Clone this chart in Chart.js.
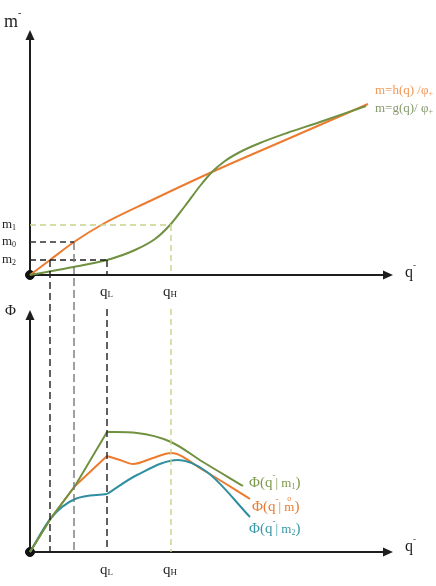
<!DOCTYPE html>
<html>
<head>
<meta charset="utf-8">
<script src="https://cdn.jsdelivr.net/npm/chart.js@4.4.1/dist/chart.umd.min.js"></script>
<style>
html, body { margin: 0; padding: 0; background: #fff; }
#diagrama { display: block; }
</style>
</head>
<body>
<canvas id="diagrama" width="436" height="586"></canvas>
<script>
// cortes en q y niveles de m
const qA = 2.0, qB = 4.4, qL = 7.7, qH = 14.1;
const m2 = 1.5, m0 = 3.3, m1 = 5.0;

// panel superior: m = h(q)/phi (naranja) y m = g(q)/phi (verde)
const hQ = [0, 2.0, 4.4, 7.3, 12.0, 18.2, 26.0, 33.8];
const hM = [0, 1.5, 3.3, 5.1, 7.4, 10.3, 13.7, 17.1];
const gQ = [0, 3.8, 7.7, 10.5, 12.5, 14.0, 15.5, 17.0, 18.2, 19.5, 21.0, 23.0, 25.7, 29.0, 33.6];
const gM = [0, 0.7, 1.5, 2.5, 3.6, 5.0, 6.9, 8.9, 10.3, 11.4, 12.3, 13.2, 14.2, 15.3, 16.9];

// panel inferior: Phi(q | m1), Phi(q | m0), Phi(q | m2)
const phi1Q = [0, 2.1, 4.5, 7.7, 10.7, 14.1, 17.3, 21.3];
const phi1 = [0, 3.4, 6.6, 12.0, 11.9, 11.0, 9.0, 6.6];
const phi0Q = [0, 2.1, 4.5, 7.7, 9.0, 10.3, 12.3, 14.1, 17.3, 22.0];
const phi0 = [0, 3.4, 6.6, 9.6, 9.2, 8.8, 9.4, 9.9, 8.2, 5.3];
const phi2Q = [0, 2.1, 4.5, 7.7, 10.7, 14.8, 17.7, 22.0];
const phi2 = [0, 3.4, 5.3, 5.8, 7.7, 9.2, 8.0, 3.5];

// largo de los ejes
const EJE_Q = 36.3, EJE_M = 24.5, EJE_PHI = 24.2, CORTE_PHI = 24.3;

// los dos paneles comparten una escala: el de arriba va desplazado
const BASE_SUP = 27.7;
const X_MIN = -3.0, X_MAX = 40.6, Y_MIN = -3.4, Y_MAX = 55.2;

const NARANJA = '#EC7B30', VERDE = '#6F9140', AZUL = '#2F8FA0', VERDE_CLARO = '#C6D488', TINTA = '#1e1e1e';
const FUENTE = '"Liberation Serif", "DejaVu Serif", serif';

const arriba = (qs, ms) => qs.map((q, i) => ({ x: q, y: BASE_SUP + ms[i] }));
const abajo = (qs, vs) => qs.map((q, i) => ({ x: q, y: vs[i] }));
// parte recta hasta qL y parte curva desde qL
const subida = (qs, vs) => abajo(qs, vs).filter(p => p.x <= qL);
const bajada = (qs, vs) => abajo(qs, vs).filter(p => p.x >= qL);

const guia = (data, color, dash) => ({
  data, borderColor: color, borderWidth: 1.4, borderDash: dash, pointRadius: 0, tension: 0, spanGaps: false
});
const curva = (data, color, suave) => ({
  data, borderColor: color, borderWidth: 2, pointRadius: 0,
  tension: suave ? 0.4 : 0, cubicInterpolationMode: suave ? 'monotone' : 'default'
});

const datasets = [
  // lineas punteadas
  guia([{ x: 0, y: BASE_SUP + m1 }, { x: qH, y: BASE_SUP + m1 }], VERDE_CLARO, [6, 4]),
  guia([{ x: qH, y: BASE_SUP + m1 }, { x: qH, y: BASE_SUP }, { x: qH, y: null }, { x: qH, y: CORTE_PHI }, { x: qH, y: 0 }], VERDE_CLARO, [6, 4]),
  guia([{ x: 0, y: BASE_SUP + m0 }, { x: qB, y: BASE_SUP + m0 }], '#333', [6, 4]),
  guia([{ x: qB, y: BASE_SUP + m0 }, { x: qB, y: 0 }], '#777', [8, 4]),
  guia([{ x: 0, y: BASE_SUP + m2 }, { x: qL, y: BASE_SUP + m2 }], TINTA, [6, 4]),
  guia([{ x: qA, y: BASE_SUP + m2 }, { x: qA, y: 0 }], TINTA, [7, 4]),
  guia([{ x: qL, y: BASE_SUP + m2 }, { x: qL, y: BASE_SUP }, { x: qL, y: null }, { x: qL, y: CORTE_PHI }, { x: qL, y: 0 }], TINTA, [7, 4]),
  // curvas de arriba
  curva(arriba(gQ, gM), VERDE, true),
  curva(arriba(hQ, hM), NARANJA, true),
  // curvas de abajo
  curva(subida(phi1Q, phi1), VERDE, false),
  curva(bajada(phi1Q, phi1), VERDE, true),
  curva(subida(phi2Q, phi2), AZUL, true),
  curva(bajada(phi2Q, phi2), AZUL, true),
  curva(subida(phi0Q, phi0), NARANJA, false),
  curva(bajada(phi0Q, phi0), NARANJA, true),
  // origenes
  { data: [{ x: 0, y: BASE_SUP }, { x: 0, y: 0 }], showLine: false, pointRadius: 4.5,
    pointBackgroundColor: '#111', pointBorderColor: '#111' }
];

function flecha(ctx, x1, y1, x2, y2) {
  const a = Math.atan2(y2 - y1, x2 - x1), L = 10, W = 4.5;
  ctx.beginPath();
  ctx.moveTo(x1, y1);
  ctx.lineTo(x2 - L * Math.cos(a), y2 - L * Math.sin(a));
  ctx.stroke();
  ctx.beginPath();
  ctx.moveTo(x2, y2);
  ctx.lineTo(x2 - L * Math.cos(a) - W * Math.sin(a), y2 - L * Math.sin(a) + W * Math.cos(a));
  ctx.lineTo(x2 - L * Math.cos(a) + W * Math.sin(a), y2 - L * Math.sin(a) - W * Math.cos(a));
  ctx.closePath();
  ctx.fill();
}

// texto con sub/superindices: partes {t, s, dy, sobre}
function rico(ctx, x, y, partes, color) {
  ctx.fillStyle = color;
  ctx.textAlign = 'left';
  ctx.textBaseline = 'alphabetic';
  let cx = x, prevX = x, prevW = 0;
  for (const p of partes) {
    ctx.font = p.s + 'px ' + FUENTE;
    const w = ctx.measureText(p.t).width;
    if (p.sobre) {
      ctx.fillText(p.t, prevX + prevW / 2 - w / 2, y + (p.dy || 0));
      continue;
    }
    ctx.fillText(p.t, cx, y + (p.dy || 0));
    prevX = cx; prevW = w;
    cx += w;
  }
}

const anotaciones = {
  id: 'anotaciones',
  beforeDatasetsDraw(chart) {
    const { ctx, scales: { x, y } } = chart;
    const X = v => x.getPixelForValue(v), Y = v => y.getPixelForValue(v);
    ctx.save();
    ctx.strokeStyle = TINTA;
    ctx.fillStyle = TINTA;
    ctx.lineWidth = 2;
    flecha(ctx, X(0), Y(BASE_SUP), X(EJE_Q), Y(BASE_SUP));
    flecha(ctx, X(0), Y(BASE_SUP), X(0), Y(BASE_SUP + EJE_M));
    flecha(ctx, X(0), Y(0), X(EJE_Q), Y(0));
    flecha(ctx, X(0), Y(0), X(0), Y(EJE_PHI));
    ctx.restore();
  },
  afterDatasetsDraw(chart) {
    const { ctx, scales: { x, y } } = chart;
    const X = v => x.getPixelForValue(v), Y = v => y.getPixelForValue(v);
    ctx.save();
    const sup = { t: '-', s: 9, dy: -9 };
    // titulos de ejes
    rico(ctx, 4, 27, [{ t: 'm', s: 18 }, { t: '-', s: 10, dy: -11 }], TINTA);
    rico(ctx, 5, 315, [{ t: 'Φ', s: 15 }], TINTA);
    rico(ctx, X(EJE_Q) + 12, Y(BASE_SUP) + 2, [{ t: 'q', s: 16 }, sup], TINTA);
    rico(ctx, X(EJE_Q) + 12, Y(0) - 1, [{ t: 'q', s: 16 }, sup], TINTA);
    // niveles m
    rico(ctx, 2, Y(BASE_SUP + m1) + 3, [{ t: 'm', s: 13 }, { t: '1', s: 8, dy: 2 }], TINTA);
    rico(ctx, 2, Y(BASE_SUP + m0) + 3, [{ t: 'm', s: 13 }, { t: '0', s: 8, dy: 2 }], TINTA);
    rico(ctx, 2, Y(BASE_SUP + m2) + 3, [{ t: 'm', s: 13 }, { t: '2', s: 8, dy: 2 }], TINTA);
    // qL y qH en ambos paneles
    for (const yy of [Y(BASE_SUP) + 21, Y(0) + 22]) {
      rico(ctx, X(qL) - 7, yy, [{ t: 'q', s: 15 }, { t: 'L', s: 9, dy: 1 }], TINTA);
      rico(ctx, X(qH) - 8, yy, [{ t: 'q', s: 15 }, { t: 'H', s: 9, dy: 1 }], TINTA);
    }
    // rotulos de las curvas de arriba
    rico(ctx, 375, 94, [{ t: 'm=h(q) /φ', s: 13 }, { t: '+', s: 8, dy: 2 }], '#F0985A');
    rico(ctx, 375, 112, [{ t: 'm=g(q)/ φ', s: 13 }, { t: '+', s: 8, dy: 2 }], '#879A6E');
    // rotulos de las curvas de abajo
    const phiQ = { t: 'Φ(q', s: 15 };
    rico(ctx, 249, 487, [phiQ, sup, { t: '| m', s: 13 }, { t: '1', s: 8, dy: 2 }, { t: ')', s: 15 }], '#7D9A4E');
    rico(ctx, 252, 511, [phiQ, sup, { t: '| ', s: 13 }, { t: 'm', s: 13 }, { t: 'o', s: 8, dy: -10, sobre: true }, { t: ')', s: 15 }], '#EA7A30');
    rico(ctx, 249, 533, [phiQ, sup, { t: '| m', s: 13 }, { t: '2', s: 8, dy: 2 }, { t: ')', s: 15 }], '#3A98A8');
    ctx.restore();
  }
};

new Chart(document.getElementById('diagrama'), {
  type: 'line',
  data: { datasets },
  options: {
    responsive: false,
    animation: false,
    events: [],
    layout: { padding: 0, autoPadding: false },
    plugins: { legend: { display: false }, tooltip: { enabled: false } },
    scales: {
      x: { type: 'linear', display: false, min: X_MIN, max: X_MAX },
      y: { type: 'linear', display: false, min: Y_MIN, max: Y_MAX }
    }
  },
  plugins: [anotaciones]
});
</script>
</body>
</html>
